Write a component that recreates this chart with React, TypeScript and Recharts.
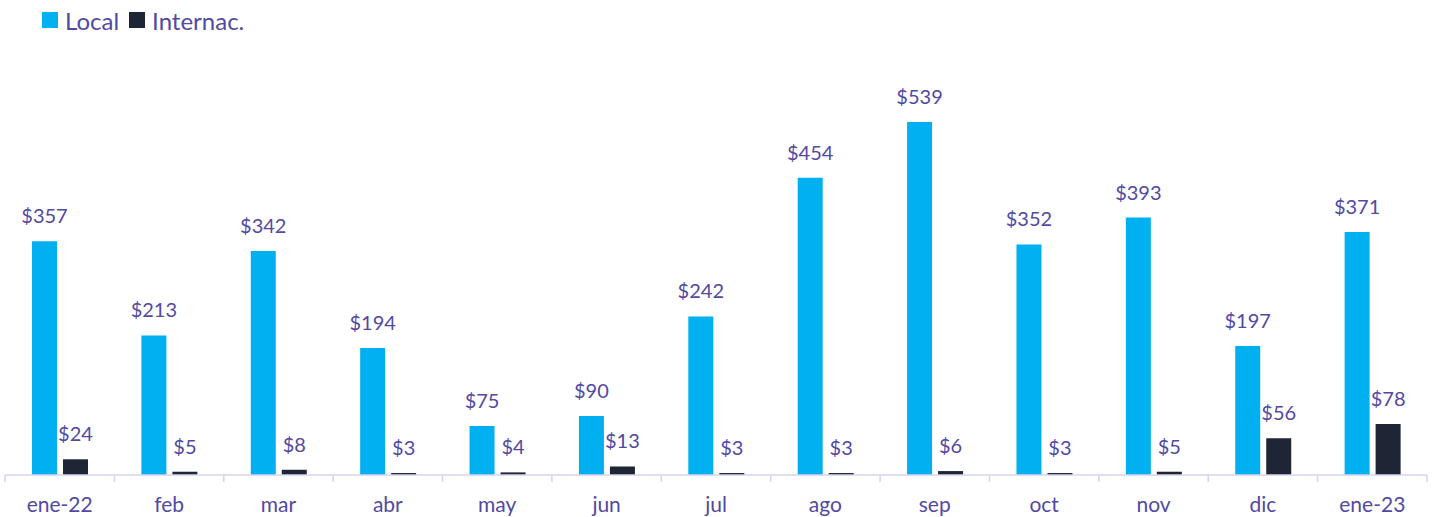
import { BarChart, Bar, XAxis, YAxis, Legend, LabelList } from 'recharts'

const months = ['ene-22', 'feb', 'mar', 'abr', 'may', 'jun', 'jul', 'ago', 'sep', 'oct', 'nov', 'dic', 'ene-23']
const local = [357, 213, 342, 194, 75, 90, 242, 454, 539, 352, 393, 197, 371]
const internac = [24, 5, 8, 3, 4, 13, 3, 3, 6, 3, 5, 56, 78]
const seriesNames = ['Local', 'Internac.']

const WIDTH = 1434
const HEIGHT = 517
const MARGIN = { top: 52, right: 7, bottom: 0, left: 5 }
const TEXT = '#5249A3'
const AXIS = '#D6D3EC'
const FONT = 'Lato, "Open Sans", sans-serif'

const data = months.map((m, i) => ({ month: m, local: local[i], internac: internac[i] }))

const band = (WIDTH - MARGIN.left - MARGIN.right) / months.length

function MonthTick(props: any) {
  const { x, y, payload, index } = props
  return (
    <g>
      <line x1={x - band / 2} x2={x - band / 2} y1={y - 7} y2={y} stroke={AXIS} strokeWidth={1.5} />
      {index === months.length - 1 && (
        <line x1={x + band / 2} x2={x + band / 2} y1={y - 7} y2={y} stroke={AXIS} strokeWidth={1.5} />
      )}
      <text x={x} y={y + 30} textAnchor="middle" fill={TEXT} fontSize={21} fontFamily={FONT}>
        {payload.value}
      </text>
    </g>
  )
}

function LegendContent(props: any) {
  // keep the series order (recharts sorts legend items by name)
  const items = [...(props.payload || [])].sort(
    (a: any, b: any) => seriesNames.indexOf(a.value) - seriesNames.indexOf(b.value)
  )
  return (
    <div style={{ display: 'flex', alignItems: 'center', height: 30, fontFamily: FONT }}>
      {items.map((it: any) => (
        <div key={it.value} style={{ display: 'flex', alignItems: 'center', marginRight: 10 }}>
          <span style={{ width: 16, height: 16, background: it.color, display: 'inline-block', marginRight: 7 }} />
          <span style={{ color: TEXT, fontSize: 24 }}>{it.value}</span>
        </div>
      ))}
    </div>
  )
}

export default function App() {
  return (
    <div style={{ position: 'absolute', left: 0, top: 0, background: '#fff' }}>
      <BarChart width={WIDTH} height={HEIGHT} data={data} margin={MARGIN} barGap={6}>
        <Legend
          verticalAlign="top"
          align="left"
          content={<LegendContent />}
          wrapperStyle={{ top: 5, left: 42 }}
        />
        <XAxis
          dataKey="month"
          height={42}
          axisLine={{ stroke: AXIS, strokeWidth: 1.5 }}
          tickLine={false}
          tickSize={7}
          tickMargin={0}
          interval={0}
          tick={<MonthTick />}
        />
        <YAxis hide domain={[0, 600]} />
        <Bar dataKey="local" name={seriesNames[0]} fill="#00B0F0" barSize={25} isAnimationActive={false}>
          <LabelList
            dataKey="local"
            position="top"
            offset={18}
            formatter={(v: any) => `$${v}`}
            fill={TEXT}
            fontSize={20}
            fontFamily={FONT}
          />
        </Bar>
        <Bar dataKey="internac" name={seriesNames[1]} fill="#1E2636" barSize={25} isAnimationActive={false}>
          <LabelList
            dataKey="internac"
            position="top"
            offset={18}
            formatter={(v: any) => `$${v}`}
            fill={TEXT}
            fontSize={20}
            fontFamily={FONT}
          />
        </Bar>
      </BarChart>
    </div>
  )
}
